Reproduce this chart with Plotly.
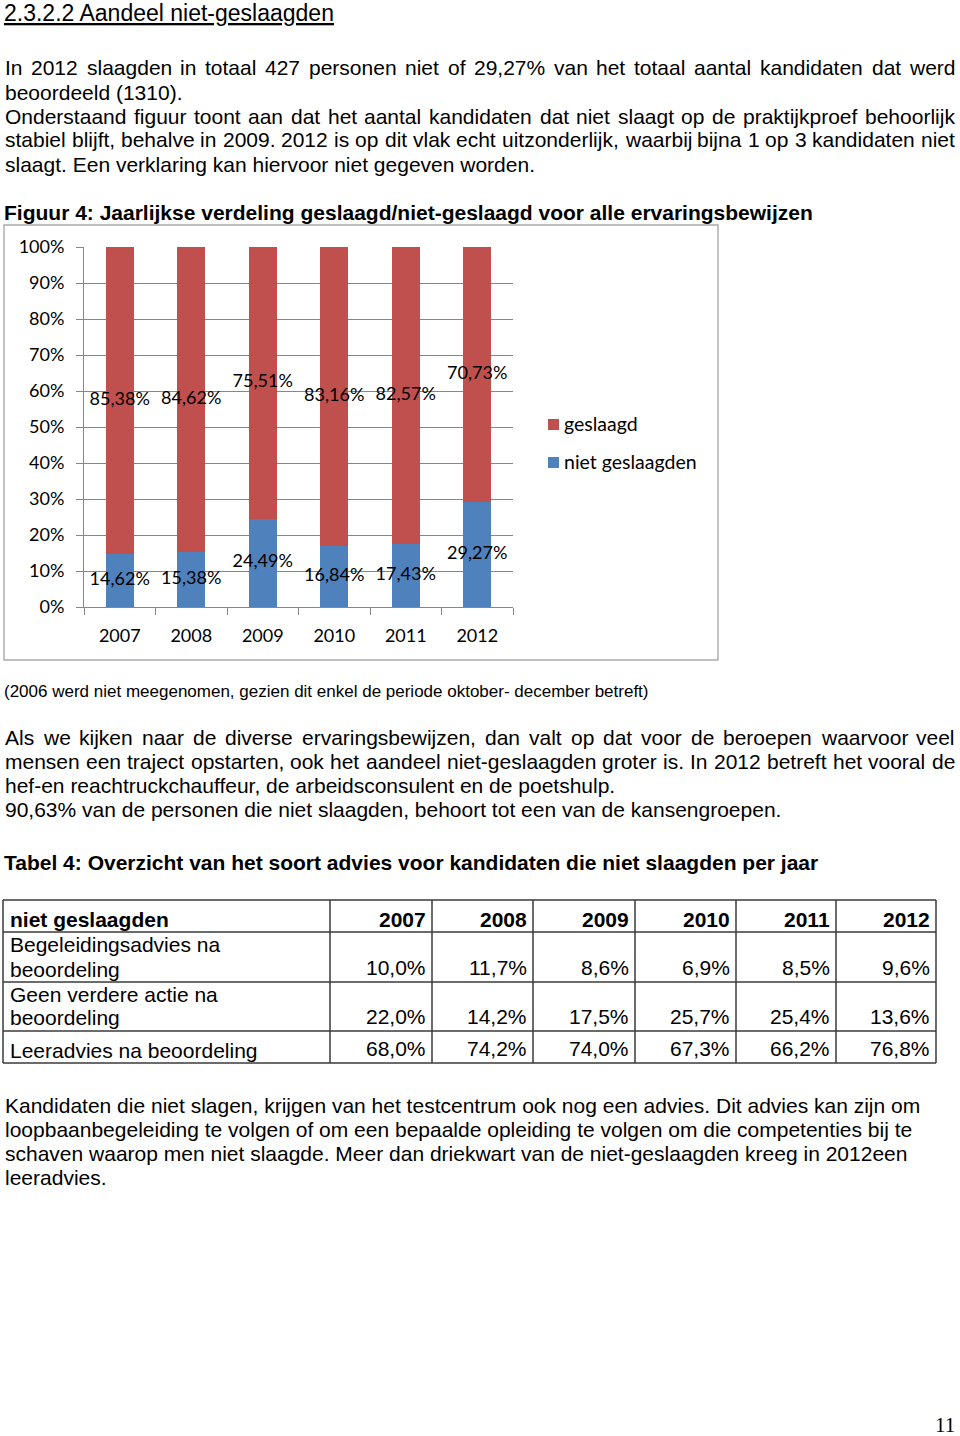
import plotly.graph_objects as go

W, H = 960, 1436

# ---------------- data ----------------
years = ["2007", "2008", "2009", "2010", "2011", "2012"]
geslaagd = [85.38, 84.62, 75.51, 83.16, 82.57, 70.73]
niet_geslaagd = [14.62, 15.38, 24.49, 16.84, 17.43, 29.27]
series_names = ["geslaagd", "niet geslaagden"]
y_tick_vals = [0, 10, 20, 30, 40, 50, 60, 70, 80, 90, 100]
y_tick_text = ["0%", "10%", "20%", "30%", "40%", "50%", "60%", "70%", "80%", "90%", "100%"]

table_header = ["niet geslaagden", "2007", "2008", "2009", "2010", "2011", "2012"]
table_row_labels = [["Begeleidingsadvies na", "beoordeling"],
                    ["Geen verdere actie na", "beoordeling"],
                    ["Leeradvies na beoordeling"]]
table_values = [[10.0, 11.7, 8.6, 6.9, 8.5, 9.6],
                [22.0, 14.2, 17.5, 25.7, 25.4, 13.6],
                [68.0, 74.2, 74.0, 67.3, 66.2, 76.8]]

heading = "2.3.2.2 Aandeel niet-geslaagden"
para1 = [("In 2012 slaagden in totaal 427 personen niet of 29,27% van het totaal aantal kandidaten dat werd", True),
         ("beoordeeld (1310).", False),
         ("Onderstaand figuur toont aan dat het aantal kandidaten dat niet slaagt op de praktijkproef behoorlijk", True),
         ("stabiel blijft, behalve in 2009. 2012 is op dit vlak echt uitzonderlijk, waarbij bijna 1 op 3 kandidaten niet", True),
         ("slaagt. Een verklaring kan hiervoor niet gegeven worden.", False)]
fig_title = "Figuur 4: Jaarlijkse verdeling geslaagd/niet-geslaagd voor alle ervaringsbewijzen"
caption = "(2006 werd niet meegenomen, gezien dit enkel de periode oktober- december betreft)"
para2 = [("Als we kijken naar de diverse ervaringsbewijzen, dan valt op dat voor de beroepen waarvoor veel", True),
         ("mensen een traject opstarten, ook het aandeel niet-geslaagden groter is. In 2012 betreft het vooral de", True),
         ("hef-en reachtruckchauffeur, de arbeidsconsulent en de poetshulp.", False),
         ("90,63% van de personen die niet slaagden, behoort tot een van de kansengroepen.", False)]
table_title = "Tabel 4: Overzicht van het soort advies voor kandidaten die niet slaagden per jaar"
para3 = ["Kandidaten die niet slagen, krijgen van het testcentrum ook nog een advies. Dit advies kan zijn om",
         "loopbaanbegeleiding te volgen of om een bepaalde opleiding te volgen om die competenties bij te",
         "schaven waarop men niet slaagde. Meer dan driekwart van de niet-geslaagden kreeg in 2012een",
         "leeradvies."]
page_number = "11"

# ---------------- styles ----------------
RED = "#C0504D"
BLUE = "#4F81BD"
GRID = "#878787"
BODY_FONT = "Liberation Sans, Arial, sans-serif"
CHART_FONT = "Lato, Calibri, sans-serif"
SERIF = "Liberation Serif, Times New Roman, serif"


def X(px):
    return px / W


def Y(py):
    return 1 - py / H


# Arial / Liberation Sans advance widths (per 1000 em)
AR = {" ": 278, "!": 278, "(": 333, ")": 333, ",": 278, "-": 333, ".": 278, "/": 278, ":": 278, "%": 889,
      "A": 667, "B": 667, "C": 722, "D": 722, "E": 667, "F": 611, "G": 778, "H": 722, "I": 278, "J": 500,
      "K": 667, "L": 556, "M": 833, "N": 722, "O": 778, "P": 667, "Q": 778, "R": 722, "S": 667, "T": 611,
      "U": 722, "V": 667, "W": 944, "X": 667, "Y": 667, "Z": 611,
      "a": 556, "b": 556, "c": 500, "d": 556, "e": 556, "f": 278, "g": 556, "h": 556, "i": 222, "j": 222,
      "k": 500, "l": 222, "m": 833, "n": 556, "o": 556, "p": 556, "q": 556, "r": 333, "s": 500, "t": 278,
      "u": 556, "v": 500, "w": 722, "x": 500, "y": 500, "z": 500}


def tw(s, size):
    return sum(AR.get(c, 556) for c in s) * size / 1000.0


annotations = []
shapes = []


def txt(x, y, text, size=21, family=BODY_FONT, anchor="left", color="black"):
    annotations.append(dict(x=X(x), y=Y(y), xref="paper", yref="paper", text=text, showarrow=False,
                            xanchor=anchor, yanchor="middle", borderpad=0, borderwidth=0,
                            font=dict(family=family, size=size, color=color)))


def line_text(y, text, justify, size=21, left=5, right=955):
    if not justify:
        txt(left, y, text, size)
        return
    words = text.split(" ")
    total = sum(tw(w, size) for w in words)
    gap = (right - left - total) / (len(words) - 1)
    x = left
    for w in words:
        txt(x, y, w, size)
        x += tw(w, size) + gap


# ---------------- page text ----------------
txt(4, 13, "<u>" + heading + "</u>", size=23)
for i, (t, j) in enumerate(para1):
    line_text(68 + 24 * i, t, j)
txt(4, 212, "<b>" + fig_title + "</b>", size=21)
txt(4, 691, caption, size=17)
for i, (t, j) in enumerate(para2):
    line_text(737 + 24 * i, t, j)
txt(4, 862, "<b>" + table_title + "</b>", size=21)
for i, t in enumerate(para3):
    line_text(1105 + 24 * i, t, False)
txt(955, 1425, page_number, size=21, family=SERIF, anchor="right")

# ---------------- chart ----------------
shapes.append(dict(type="rect", xref="paper", yref="paper", x0=X(4), x1=X(718), y0=Y(660), y1=Y(225),
                   line=dict(color="#ABABAB", width=1.4), fillcolor="rgba(0,0,0,0)", layer="below"))


def fmt(v):
    return f"{v:.2f}".replace(".", ",") + "%"


fig = go.Figure()
fig.add_trace(go.Bar(x=years, y=niet_geslaagd, name=series_names[1], marker=dict(color=BLUE, line=dict(width=0))))
fig.add_trace(go.Bar(x=years, y=geslaagd, name=series_names[0], marker=dict(color=RED, line=dict(width=0))))
fig.add_trace(go.Scatter(x=years, y=[v / 2 for v in niet_geslaagd], mode="text",
                         text=[fmt(v) for v in niet_geslaagd], textposition="middle center", cliponaxis=False,
                         textfont=dict(family=CHART_FONT, size=18, color="black"), hoverinfo="skip"))
fig.add_trace(go.Scatter(x=years, y=[n + g / 2 for n, g in zip(niet_geslaagd, geslaagd)], mode="text",
                         text=[fmt(v) for v in geslaagd], textposition="middle center", cliponaxis=False,
                         textfont=dict(family=CHART_FONT, size=18, color="black"), hoverinfo="skip"))

# legend (custom)
legend_items = [(series_names[0], RED, 424), (series_names[1], BLUE, 462)]
for name, col, yy in legend_items:
    shapes.append(dict(type="rect", xref="paper", yref="paper", x0=X(548), x1=X(559), y0=Y(yy + 6), y1=Y(yy - 5),
                       line=dict(width=0), fillcolor=col))
    txt(564, yy - 1, name, size=19.5, family=CHART_FONT)

# ---------------- table ----------------
col_x = [3, 330, 432, 533, 635, 736, 836, 936]
row_y = [900, 932, 982, 1031, 1063]
for yy in row_y:
    shapes.append(dict(type="line", xref="paper", yref="paper", x0=X(col_x[0]), x1=X(col_x[-1]), y0=Y(yy), y1=Y(yy),
                       line=dict(color="#3a3a3a", width=1.5)))
for xx in col_x:
    shapes.append(dict(type="line", xref="paper", yref="paper", x0=X(xx), x1=X(xx), y0=Y(row_y[0]), y1=Y(row_y[-1]),
                       line=dict(color="#3a3a3a", width=1.5)))

hb = row_y[1] - 13
txt(col_x[0] + 7, hb, "<b>" + table_header[0] + "</b>")
for c, h in enumerate(table_header[1:]):
    txt(col_x[c + 2] - 6, hb, "<b>" + h + "</b>", anchor="right")
for r, labels in enumerate(table_row_labels):
    bottom = row_y[r + 2] - 13
    n = len(labels)
    for k, lab in enumerate(labels):
        txt(col_x[0] + 7, bottom - 24 * (n - 1 - k), lab)
    for c, v in enumerate(table_values[r]):
        txt(col_x[c + 2] - 6, bottom - 2, f"{v:.1f}".replace(".", ",") + "%", anchor="right")

fig.update_layout(
    width=W, height=H, margin=dict(l=0, r=0, t=0, b=0, pad=0, autoexpand=False),
    paper_bgcolor="white", plot_bgcolor="white",
    barmode="stack", bargap=0.61, showlegend=False,
    xaxis=dict(domain=[X(84), X(513)], type="category", showline=True, linecolor=GRID, linewidth=1,
               ticks="outside", tickson="boundaries", ticklen=7, tickcolor=GRID, showgrid=False,
               tickfont=dict(family=CHART_FONT, size=18, color="black"), ticklabelstandoff=12,
               fixedrange=True, automargin=False),
    yaxis=dict(domain=[Y(607), Y(247)], range=[0, 100], tickvals=y_tick_vals, ticktext=y_tick_text,
               showgrid=True, gridcolor=GRID, gridwidth=1, showline=True, linecolor=GRID, linewidth=1,
               ticks="outside", ticklen=7, tickcolor=GRID, zeroline=False,
               tickfont=dict(family=CHART_FONT, size=18, color="black"), ticklabelstandoff=8,
               fixedrange=True, automargin=False),
    annotations=annotations, shapes=shapes,
)

fig.write_html("out.html", config={"displayModeBar": False},
               post_script="document.body.style.margin='0';document.body.style.overflow='hidden';")
